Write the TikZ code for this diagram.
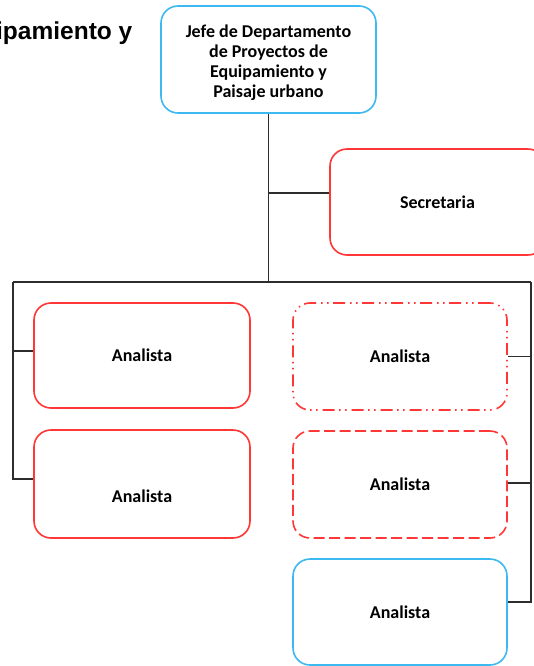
\documentclass[tikz,border=0pt]{standalone}
\usepackage{fontspec}
\setmainfont{Carlito}
\newfontfamily\titlefont{Liberation Sans}
\definecolor{boxblue}{RGB}{60,185,240}
\definecolor{boxred}{RGB}{255,55,55}
\definecolor{connc}{RGB}{45,45,45}
\begin{document}
\begin{tikzpicture}[x=1pt,y=-1pt,
  orgbox/.style={rounded corners=17pt, line width=1.6pt, inner sep=0pt,
    font=\bfseries\fontsize{18}{20}\selectfont, align=center},
  onebox/.style={orgbox, text height=12pt, text depth=0pt},
  redbox/.style={onebox, draw=boxred},
  bluebox/.style={onebox, draw=boxblue},
  dashdotdot/.style={dash pattern=on 12pt off 4.5pt on 1.5pt off 4.5pt on 1.5pt off 5pt},
  dashbox/.style={dash pattern=on 11pt off 4.5pt},
  conn/.style={draw=connc, line width=1.3pt}]
\useasboundingbox (0,0) rectangle (533,666);

\node[font=\titlefont\bfseries\fontsize{24.5}{28}\selectfont, anchor=base east, inner sep=0pt] (title) at (132.5,40) {Equipamiento y};

\node[orgbox, draw=boxblue, minimum width=215pt, minimum height=107pt,
  text height=80.5pt, text depth=4pt] (jefe) at (268.5,59.5)
  {Jefe de Departamento\\de Proyectos de\\Equipamiento y\\Paisaje urbano};
\node[redbox, minimum width=215pt, minimum height=106pt] (sec) at (437.5,202) {Secretaria};

\node[redbox, minimum width=216pt, minimum height=105pt] (a1) at (142,355.5) {Analista};
\node[redbox, minimum width=216pt, minimum height=108pt, text height=36pt] (a2) at (142,484) {Analista};
\node[redbox, dashdotdot, minimum width=214pt, minimum height=107pt] (a3) at (400,356.5) {Analista};
\node[redbox, dashbox, minimum width=214pt, minimum height=107pt] (a4) at (400,484.5) {Analista};
\node[bluebox, minimum width=214pt, minimum height=106pt] (a5) at (400,612) {Analista};

\coordinate (busL) at (13,282);
\coordinate (busR) at (531,282);
\coordinate (secW) at ([yshift=9pt]sec.west);

\draw[conn] (jefe.south) -- (jefe.south |- busL);
\draw[conn] (jefe.south |- secW) -- (secW);
\draw[conn] (busL) -- (busR);
\draw[conn] (busL) |- ([yshift=4.5pt]a1.west);
\draw[conn] (busL) |- ([yshift=5pt]a2.west);
\draw[conn] (busR) |- (a3.east);
\draw[conn] (busR) |- ([yshift=1.5pt]a4.east);
\draw[conn] (busR) |- ([yshift=10pt]a5.east);
\end{tikzpicture}
\end{document}
